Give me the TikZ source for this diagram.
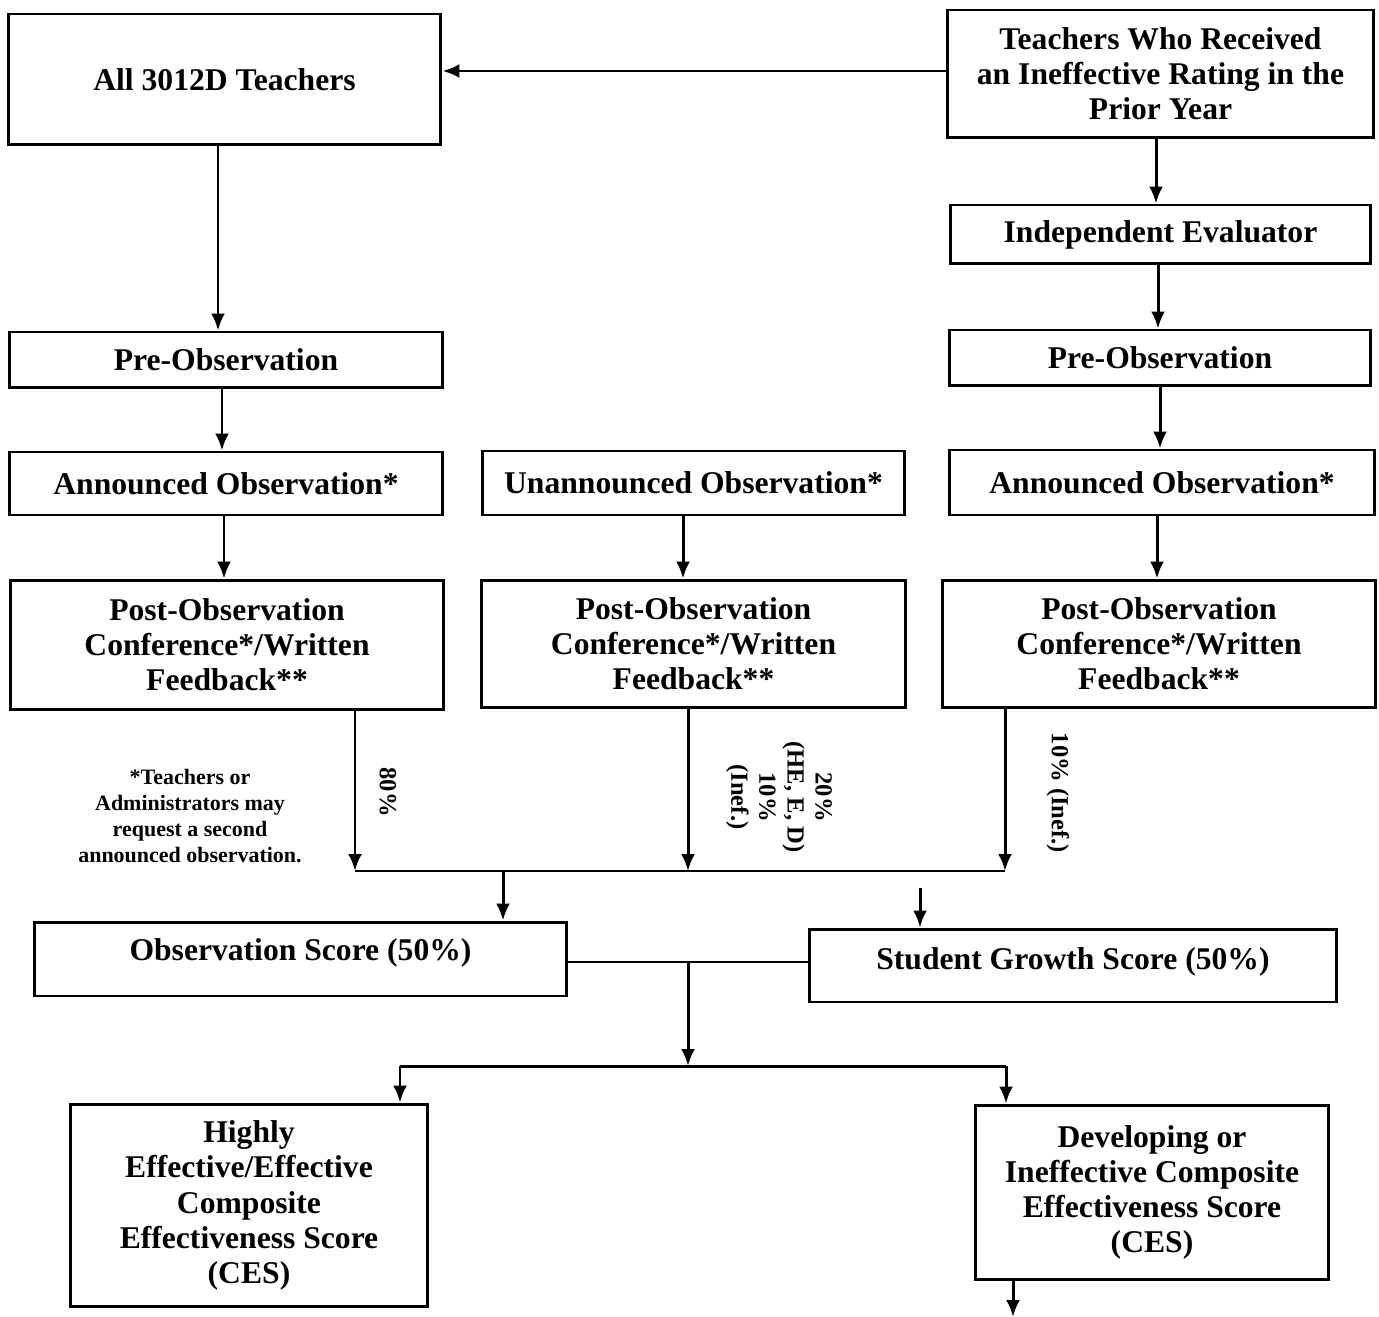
\documentclass[tikz,border=0pt]{standalone}
\usepackage{fontspec}
\setmainfont{Liberation Serif}
\usetikzlibrary{arrows.meta}
\begin{document}
\begin{tikzpicture}[x=0.02cm, y=-0.02cm, >={Latex[length=3.4mm,width=2.8mm]},
  box/.style={draw, line width=1.7pt, align=center, inner sep=2pt,
    font=\fontsize{18}{20}\selectfont\bfseries},
  link/.style={line width=1.7pt},
  note/.style={align=center, font=\fontsize{12.5}{14.7}\selectfont\bfseries},
  pct/.style={align=center, rotate=-90, font=\fontsize{14}{16}\selectfont\bfseries}]
  \useasboundingbox (0,0) rectangle (1379,1317);

  % 上段の箱
  \node[box, minimum width=8.66cm, minimum height=2.62cm] (all) at (224.5,79.5) {All 3012D Teachers};
  \node[box, minimum width=8.54cm, minimum height=2.56cm] (ineff) at (1160.5,74)
    {Teachers Who Received\\an Ineffective Rating in the\\Prior Year};
  \node[box, minimum width=8.42cm, minimum height=1.18cm] (indep) at (1160.5,234.5) {Independent Evaluator};

  % 観察の流れ (左・中・右)
  \node[box, minimum width=8.68cm, minimum height=1.12cm] (preL) at (226,360) {Pre-Observation};
  \node[box, minimum width=8.44cm, minimum height=1.12cm] (preR) at (1160,358) {Pre-Observation};
  \node[box, minimum width=8.68cm, minimum height=1.26cm] (annL) at (226,483.5) {Announced Observation*};
  \node[box, minimum width=8.46cm, minimum height=1.28cm] (unann) at (693.5,483) {Unannounced Observation*};
  \node[box, minimum width=8.52cm, minimum height=1.30cm] (annR) at (1162,482.5) {Announced Observation*};
  \node[box, minimum width=8.68cm, minimum height=2.60cm] (postL) at (227,645)
    {Post-Observation\\Conference*/Written\\Feedback**};
  \node[box, minimum width=8.50cm, minimum height=2.56cm] (postM) at (693.5,644)
    {Post-Observation\\Conference*/Written\\Feedback**};
  \node[box, minimum width=8.68cm, minimum height=2.56cm] (postR) at (1159,644)
    {Post-Observation\\Conference*/Written\\Feedback**};

  % スコアの箱
  \node[box, minimum width=10.66cm, minimum height=1.48cm, text depth=0.37cm] (obs) at (300.5,959) {Observation Score (50\%)};
  \node[box, minimum width=10.56cm, minimum height=1.46cm, text depth=0.29cm] (growth) at (1073,965.5) {Student Growth Score (50\%)};
  \node[box, minimum width=7.16cm, minimum height=4.06cm] (he) at (249,1205.5)
    {Highly\\Effective/Effective\\Composite\\Effectiveness Score\\(CES)};
  \node[box, minimum width=7.08cm, minimum height=3.50cm] (dev) at (1152,1192.5)
    {Developing or\\Ineffective Composite\\Effectiveness Score\\(CES)};

  % 注記と割合
  \node[note] (fn) at (190,816) {*Teachers or\\Administrators may\\request a second\\announced observation.};
  \node[pct] (p80) at (388,792) {80\%};
  \node[pct] (p20) at (779,797) {20\%\\(HE, E, D)\\10\%\\(Inef.)};
  \node[pct] (p10) at (1058,793) {10\% (Inef.)};

  % 分岐点
  \coordinate (jL) at (355,871);
  \coordinate (jM) at (688,871);
  \coordinate (jR) at (1005,871);
  \coordinate (jO) at (503,871);
  \coordinate (gIn) at (920,888);
  \coordinate (mid) at (688,962);
  \coordinate (split) at (688,1066);
  \coordinate (sL) at (400,1066);
  \coordinate (sR) at (1006,1066);
  \coordinate (out) at (1013,1317);

  % 矢印
  \draw[link,->] (ineff.west |- 0,71) -- (all.east |- 0,71);
  \draw[link,->] ([xshift=-0.13cm]all.south) -- ([xshift=-0.13cm]all.south |- preL.north);
  \draw[link,->] ([xshift=-0.08cm]preL.south) -- ([xshift=-0.08cm]preL.south |- annL.north);
  \draw[link,->] ([xshift=-0.04cm]annL.south) -- ([xshift=-0.04cm]annL.south |- postL.north);
  \draw[link,->] ([xshift=-0.09cm]ineff.south) -- ([xshift=-0.09cm]ineff.south |- indep.north);
  \draw[link,->] ([xshift=-0.05cm]indep.south) -- ([xshift=-0.05cm]indep.south |- preR.north);
  \draw[link,->] (preR.south) -- (preR.south |- annR.north);
  \draw[link,->] ([xshift=-0.1cm]annR.south) -- ([xshift=-0.1cm]annR.south |- postR.north);
  \draw[link,->] ([xshift=-0.21cm]unann.south) -- ([xshift=-0.21cm]unann.south |- postM.north);

  \draw[link,->] (postL.south -| jL) -- (jL);
  \draw[link,->] (postM.south -| jM) -- (jM);
  \draw[link,->] (postR.south -| jR) -- (jR);
  \draw[link] (jL) -- (jR);
  \draw[link,->] (jO) -- (jO |- obs.north);
  \draw[link,->] (gIn) -- (gIn |- growth.north);

  \draw[link] (obs.east |- mid) -- (growth.west |- mid);
  \draw[link,->] (mid) -- (split);
  \draw[link] (sL) -- (sR);
  \draw[link,->] (sL) -- (sL |- he.north);
  \draw[link,->] (sR) -- (sR |- dev.north);
  \draw[link,->] (dev.south -| out) -- (out);

\end{tikzpicture}
\end{document}
